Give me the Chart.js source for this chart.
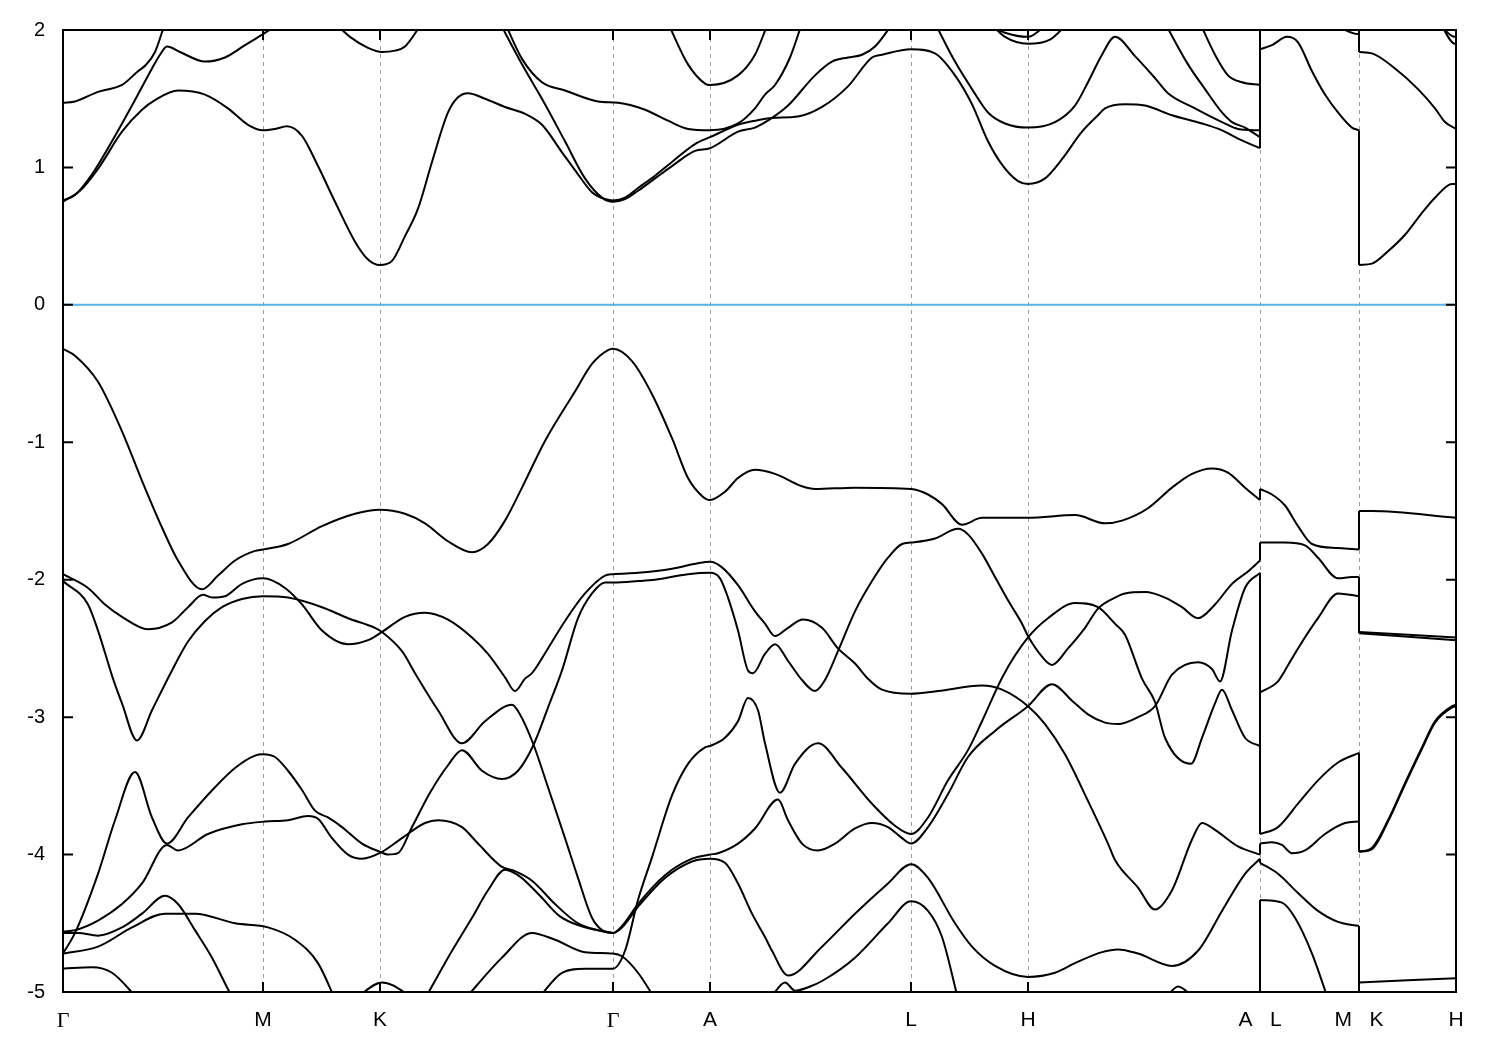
<!DOCTYPE html>
<html>
<head>
<meta charset="utf-8">
<script src="https://cdn.jsdelivr.net/npm/chart.js@4.4.1/dist/chart.umd.min.js"></script>
<style>
  html, body { margin: 0; padding: 0; background: #fff; }
  canvas { display: block; }
</style>
</head>
<body>
<canvas id="bands" width="1500" height="1050"></canvas>
<script>
// k-path: high symmetry points (k distance, arbitrary units) and their labels
const kTicks = [0, 200, 317, 550, 647, 848, 965, 1197, 1296, 1393];
const kLabels = ['Γ', 'M', 'K', 'Γ', 'A', 'L', 'H', 'A   L', 'M   K', 'H'];
const eTicks = [2, 1, 0, -1, -2, -3, -4, -5];

// valence bands, [k, E(eV)]
const vb1 = [[0,-0.32],[12,-0.37],[35,-0.56],[59,-0.92],[79,-1.28],[99,-1.62],[115,-1.86],[139,-2.07],[155,-1.97],[172,-1.86],[192,-1.79],[200,-1.78],[225,-1.74],[259,-1.61],[292,-1.52],[317,-1.49],[342,-1.52],[362,-1.59],[385,-1.72],[409,-1.80],[425,-1.74],[442,-1.57],[459,-1.33],[482,-0.99],[512,-0.63],[529,-0.43],[545,-0.33],[550,-0.32],[569,-0.41],[589,-0.65],[609,-0.97],[625,-1.26],[639,-1.39],[647,-1.42],[662,-1.36],[675,-1.26],[692,-1.20],[712,-1.23],[739,-1.32],[752,-1.34],[792,-1.33],[848,-1.34],[865,-1.38],[879,-1.45],[899,-1.60],[919,-1.55],[965,-1.55],[1012,-1.53],[1042,-1.59],[1059,-1.57],[1085,-1.48],[1109,-1.33],[1129,-1.23],[1149,-1.19],[1165,-1.22],[1182,-1.33],[1197,-1.42],[1197,-1.34],[1209,-1.38],[1222,-1.46],[1235,-1.61],[1249,-1.74],[1275,-1.77],[1296,-1.78],[1296,-1.50],[1309,-1.50],[1393,-1.55]];
const vb2 = [[0,-1.96],[25,-2.06],[42,-2.18],[59,-2.27],[85,-2.36],[109,-2.31],[125,-2.20],[140,-2.11],[149,-2.13],[162,-2.12],[179,-2.03],[200,-1.99],[222,-2.06],[239,-2.18],[259,-2.37],[285,-2.47],[305,-2.44],[319,-2.38],[342,-2.27],[362,-2.24],[385,-2.29],[409,-2.42],[425,-2.54],[442,-2.71],[452,-2.81],[462,-2.72],[469,-2.68],[485,-2.50],[502,-2.30],[522,-2.10],[542,-1.97],[550,-1.96],[575,-1.95],[609,-1.92],[635,-1.88],[647,-1.87],[659,-1.91],[675,-2.04],[692,-2.23],[702,-2.32],[712,-2.41],[725,-2.35],[740,-2.29],[759,-2.35],[775,-2.50],[792,-2.61],[805,-2.72],[819,-2.80],[848,-2.83],[875,-2.81],[919,-2.77],[939,-2.80],[965,-2.92],[982,-3.05],[1002,-3.27],[1025,-3.61],[1045,-3.92],[1052,-4.04],[1075,-4.24],[1092,-4.40],[1109,-4.26],[1129,-3.89],[1139,-3.77],[1152,-3.82],[1175,-3.94],[1197,-4.00],[1197,-3.92],[1209,-3.91],[1219,-3.93],[1229,-3.99],[1242,-3.97],[1262,-3.85],[1282,-3.77],[1296,-3.76],[1296,-3.98],[1309,-3.96],[1325,-3.76],[1342,-3.49],[1359,-3.23],[1372,-3.04],[1389,-2.93],[1393,-2.92]];
const vb3 = [[0,-2.01],[25,-2.18],[35,-2.37],[50,-2.72],[59,-2.90],[74,-3.17],[89,-2.95],[109,-2.66],[125,-2.45],[142,-2.30],[159,-2.20],[179,-2.14],[200,-2.12],[225,-2.13],[259,-2.20],[285,-2.28],[312,-2.35],[319,-2.38],[339,-2.52],[352,-2.68],[375,-2.95],[399,-3.19],[422,-3.03],[449,-2.91],[457,-2.98],[470,-3.19],[485,-3.51],[502,-3.88],[515,-4.17],[529,-4.46],[539,-4.55],[550,-4.57],[559,-4.52],[575,-4.36],[602,-4.15],[629,-4.03],[647,-4.00],[655,-3.99],[675,-3.92],[692,-3.81],[715,-3.60],[725,-3.75],[739,-3.92],[755,-3.97],[772,-3.92],[792,-3.81],[809,-3.77],[825,-3.80],[839,-3.88],[848,-3.92],[865,-3.80],[885,-3.56],[905,-3.29],[932,-3.10],[965,-2.92],[989,-2.76],[1009,-2.88],[1025,-2.98],[1042,-3.04],[1055,-3.05],[1075,-3.00],[1092,-2.92],[1109,-2.69],[1135,-2.60],[1149,-2.65],[1157,-2.74],[1169,-2.37],[1182,-2.06],[1197,-1.95],[1197,-3.85],[1215,-3.80],[1235,-3.63],[1255,-3.46],[1275,-3.33],[1296,-3.26],[1296,-3.98],[1309,-3.95],[1325,-3.75],[1342,-3.48],[1359,-3.22],[1372,-3.03],[1389,-2.92],[1393,-2.91]];
const vb4 = [[0,-4.72],[12,-4.57],[35,-4.14],[52,-3.75],[72,-3.40],[89,-3.73],[104,-3.92],[125,-3.73],[152,-3.51],[172,-3.37],[192,-3.28],[200,-3.27],[212,-3.29],[225,-3.39],[239,-3.53],[252,-3.68],[265,-3.73],[279,-3.80],[299,-3.92],[317,-3.98],[325,-4.00],[335,-3.99],[349,-3.80],[367,-3.55],[385,-3.35],[399,-3.24],[419,-3.39],[439,-3.45],[455,-3.39],[470,-3.21],[485,-2.93],[499,-2.66],[515,-2.28],[529,-2.10],[542,-2.02],[550,-2.02],[575,-2.01],[592,-2.00],[625,-1.96],[647,-1.95],[657,-1.99],[665,-2.13],[675,-2.37],[685,-2.66],[690,-2.68],[702,-2.54],[712,-2.47],[725,-2.59],[739,-2.73],[752,-2.81],[762,-2.73],[775,-2.52],[792,-2.23],[809,-2.01],[825,-1.84],[839,-1.74],[848,-1.73],[872,-1.70],[895,-1.63],[905,-1.67],[919,-1.81],[932,-1.98],[945,-2.15],[959,-2.32],[965,-2.41],[979,-2.56],[989,-2.62],[1005,-2.50],[1022,-2.35],[1035,-2.21],[1052,-2.13],[1062,-2.10],[1082,-2.09],[1102,-2.13],[1119,-2.20],[1135,-2.28],[1152,-2.18],[1169,-2.03],[1185,-1.94],[1197,-1.86],[1197,-1.73],[1222,-1.73],[1242,-1.75],[1255,-1.84],[1275,-1.99],[1289,-1.98],[1296,-1.98],[1296,-2.38],[1393,-2.42]];
const vb5 = [[0,-4.56],[12,-4.55],[35,-4.48],[59,-4.36],[79,-4.21],[104,-3.93],[115,-3.97],[145,-3.85],[179,-3.78],[202,-3.76],[225,-3.75],[245,-3.72],[255,-3.74],[269,-3.88],[285,-4.00],[299,-4.03],[319,-3.98],[339,-3.88],[362,-3.77],[375,-3.75],[399,-3.80],[415,-3.92],[439,-4.09],[452,-4.12],[469,-4.19],[492,-4.36],[515,-4.50],[535,-4.55],[550,-4.57],[559,-4.53],[575,-4.38],[602,-4.17],[629,-4.05],[647,-4.03],[662,-4.06],[675,-4.21],[689,-4.43],[702,-4.60],[709,-4.70],[725,-4.88],[759,-4.67],[792,-4.43],[825,-4.21],[848,-4.07],[865,-4.17],[892,-4.50],[909,-4.67],[932,-4.81],[965,-4.89],[992,-4.86],[1012,-4.79],[1039,-4.71],[1055,-4.69],[1075,-4.72],[1109,-4.81],[1135,-4.70],[1159,-4.41],[1182,-4.14],[1197,-4.03],[1197,-4.06],[1215,-4.14],[1235,-4.28],[1255,-4.41],[1275,-4.49],[1296,-4.52],[1296,-5.30]];
const vb6 = [[475,-5.05],[499,-4.86],[522,-4.83],[550,-4.83],[562,-4.70],[575,-4.33],[589,-4.02],[609,-3.57],[625,-3.34],[642,-3.22],[647,-3.21],[662,-3.15],[675,-3.03],[685,-2.86],[695,-2.95],[702,-3.19],[717,-3.55],[732,-3.34],[755,-3.19],[779,-3.37],[809,-3.63],[832,-3.79],[848,-3.85],[865,-3.73],[885,-3.46],[905,-3.24],[919,-3.03],[940,-2.70],[965,-2.42],[985,-2.28],[1012,-2.17],[1035,-2.20],[1052,-2.32],[1062,-2.40],[1079,-2.72],[1092,-2.89],[1102,-3.15],[1128,-3.34],[1139,-3.15],[1152,-2.90],[1159,-2.80],[1169,-2.95],[1182,-3.15],[1197,-3.21],[1197,-2.82],[1215,-2.74],[1222,-2.66],[1235,-2.50],[1255,-2.28],[1275,-2.10],[1296,-2.12],[1296,-2.39],[1393,-2.44]];
const vb7 = [[0,-4.57],[15,-4.57],[35,-4.59],[59,-4.53],[79,-4.43],[102,-4.30],[115,-4.36],[132,-4.55],[149,-4.75],[165,-4.98],[170,-5.05]];
const vb8 = [[0,-4.72],[35,-4.67],[69,-4.53],[102,-4.43],[132,-4.43],[172,-4.50],[205,-4.53],[232,-4.62],[255,-4.79],[272,-5.05]];
const vb9 = [[0,-4.83],[29,-4.82],[49,-4.86],[75,-5.05]];
const vb10 = [[292,-5.05],[319,-4.93],[352,-5.05]];
const vb11 = [[362,-5.05],[385,-4.75],[409,-4.46],[425,-4.26],[442,-4.11],[457,-4.16],[477,-4.30],[497,-4.45],[522,-4.53],[550,-4.57]];
const vb12 = [[402,-5.05],[439,-4.75],[469,-4.57],[492,-4.62],[522,-4.71],[550,-4.72],[559,-4.74],[575,-4.86],[592,-5.05]];
const vb13 = [[707,-5.05],[722,-4.93],[732,-4.99],[747,-4.96],[759,-4.92],[792,-4.75],[825,-4.50],[848,-4.34],[865,-4.41],[879,-4.60],[895,-5.05]];
const vb14 = [[1102,-5.05],[1115,-4.96],[1132,-5.05]];
const vb15 = [[1197,-5.30],[1197,-4.33],[1219,-4.35],[1232,-4.46],[1249,-4.72],[1265,-5.05]];
const vb16 = [[1296,-5.30],[1296,-4.93],[1393,-4.90]];

// conduction bands, [k, E(eV)]
const cb1 = [[0,0.76],[12,0.80],[29,0.95],[49,1.19],[69,1.45],[89,1.72],[97,1.82],[104,1.88],[117,1.84],[142,1.77],[162,1.80],[182,1.89],[200,1.97],[217,2.05]];
const cb2 = [[0,0.75],[17,0.83],[35,0.99],[59,1.26],[79,1.42],[92,1.49],[115,1.56],[142,1.53],[165,1.43],[185,1.31],[200,1.27],[212,1.28],[224,1.30],[239,1.23],[255,1.01],[272,0.75],[292,0.46],[305,0.33],[317,0.29],[329,0.32],[342,0.50],[355,0.70],[369,1.04],[385,1.40],[395,1.51],[405,1.54],[422,1.50],[442,1.44],[462,1.39],[479,1.31],[499,1.11],[515,0.95],[529,0.82],[542,0.77],[550,0.76],[562,0.78],[575,0.85],[592,0.94],[609,1.04],[632,1.17],[647,1.22],[675,1.31],[692,1.34],[709,1.36],[735,1.37],[759,1.44],[785,1.59],[809,1.80],[819,1.82],[848,1.86],[872,1.83],[892,1.67],[909,1.46],[925,1.19],[939,1.02],[955,0.90],[965,0.88],[982,0.92],[999,1.06],[1019,1.26],[1035,1.38],[1042,1.43],[1062,1.46],[1082,1.45],[1109,1.38],[1139,1.32],[1159,1.27],[1175,1.21],[1197,1.14],[1197,1.86],[1209,1.89],[1224,1.95],[1235,1.91],[1249,1.70],[1262,1.53],[1275,1.40],[1289,1.29],[1296,1.27],[1296,0.29],[1309,0.30],[1325,0.39],[1342,0.51],[1359,0.67],[1372,0.78],[1389,0.88],[1393,0.88]];
const cb3 = [[0,1.47],[12,1.48],[35,1.55],[59,1.60],[75,1.70],[82,1.74],[92,1.84],[102,2.05]];
const cb4 = [[272,2.05],[287,1.95],[305,1.87],[319,1.84],[332,1.85],[342,1.88],[359,2.05]];
const cb5 = [[437,2.05],[459,1.75],[482,1.46],[502,1.19],[522,0.92],[539,0.78],[550,0.75],[562,0.77],[575,0.83],[592,0.92],[609,1.01],[632,1.12],[647,1.14],[675,1.26],[692,1.29],[709,1.36],[725,1.45],[752,1.67],[769,1.77],[785,1.80],[799,1.82],[812,1.88],[830,2.05]];
const cb6 = [[442,2.05],[459,1.79],[479,1.62],[502,1.56],[535,1.48],[555,1.47],[582,1.42],[605,1.34],[625,1.28],[647,1.27],[675,1.32],[692,1.43],[702,1.53],[712,1.60],[727,1.80],[739,2.05]];
const cb7 = [[605,2.05],[625,1.75],[642,1.61],[647,1.60],[675,1.67],[692,1.82],[705,2.05]];
const cb8 = [[922,2.05],[942,1.98],[965,1.95],[985,2.05]];
const cb9 = [[927,2.05],[942,1.95],[965,1.90],[987,1.93],[1005,2.05]];
const cb10 = [[872,2.05],[892,1.77],[909,1.57],[925,1.40],[942,1.32],[965,1.29],[992,1.33],[1012,1.45],[1025,1.62],[1039,1.82],[1052,1.95],[1072,1.81],[1092,1.65],[1105,1.54],[1132,1.43],[1159,1.33],[1175,1.28],[1197,1.27],[1197,2.05]];
const cb11 = [[1102,2.05],[1125,1.75],[1142,1.57],[1159,1.40],[1169,1.33],[1182,1.29],[1197,1.22],[1197,2.05]];
const cb12 = [[1137,2.05],[1152,1.82],[1165,1.67],[1179,1.62],[1197,1.60],[1197,2.05]];
const cb13 = [[1269,2.05],[1295,1.97],[1296,1.97],[1296,1.84],[1309,1.83],[1332,1.72],[1355,1.57],[1372,1.43],[1382,1.33],[1393,1.28]];
const cb14 = [[1375,2.05],[1392,1.95],[1393,1.95]];
const cb15 = [[1377,2.05],[1392,1.90],[1393,1.90]];

// Fermi level
const fermi = [[0, 0], [1393, 0]];

const allBands = [vb1, vb2, vb3, vb4, vb5, vb6, vb7, vb8, vb9, vb10, vb11, vb12, vb13, vb14, vb15, vb16,
                  cb1, cb2, cb3, cb4, cb5, cb6, cb7, cb8, cb9, cb10, cb11, cb12, cb13, cb14, cb15];

// cut a band where the path jumps (same k twice): smooth pieces + straight vertical joins
function splitBand(b) {
    let pieces = [], joins = [], cur = [b[0]];
    for (let i = 1; i < b.length; i++) {
        if (b[i][0] === b[i - 1][0]) {
            pieces.push(cur);
            joins.push([b[i - 1], b[i]]);
            cur = [b[i]];
        } else {
            cur.push(b[i]);
        }
    }
    pieces.push(cur);
    return { pieces, joins };
}

let datasets = [];
allBands.forEach(b => {
    const parts = splitBand(b);
    parts.pieces.filter(p => p.length > 1).forEach(p => datasets.push({
        data: p,
        borderColor: '#000',
        borderWidth: 2,
        pointRadius: 0,
        cubicInterpolationMode: 'monotone',
        clip: 0
    }));
    parts.joins.forEach(j => datasets.push({
        data: j,
        borderColor: '#000',
        borderWidth: 2,
        pointRadius: 0,
        tension: 0,
        clip: 0
    }));
});
datasets.push({
    data: fermi,
    borderColor: '#56b4e9',
    borderWidth: 2,
    pointRadius: 0,
    tension: 0,
    clip: 0
});

// white background, dashed k-point lines, frame with inward ticks (gnuplot look)
const frame = {
    id: 'frame',
    beforeDraw(chart) {
        const ctx = chart.ctx;
        ctx.save();
        ctx.fillStyle = '#fff';
        ctx.fillRect(0, 0, chart.width, chart.height);
        ctx.restore();
    },
    beforeDatasetsDraw(chart) {
        const { ctx, chartArea: a, scales: { x } } = chart;
        ctx.save();
        ctx.strokeStyle = '#a0a0a0';
        ctx.lineWidth = 1;
        ctx.setLineDash([4, 4]);
        ctx.beginPath();
        kTicks.slice(1, -1).forEach(k => {
            const px = Math.round(x.getPixelForValue(k)) + 0.5;
            ctx.moveTo(px, a.top);
            ctx.lineTo(px, a.bottom);
        });
        ctx.stroke();
        ctx.restore();
    },
    afterDraw(chart) {
        const { ctx, chartArea: a, scales: { x, y } } = chart;
        ctx.save();
        ctx.strokeStyle = '#000';
        ctx.lineWidth = 2;
        ctx.strokeRect(a.left, a.top, a.right - a.left, a.bottom - a.top);
        ctx.beginPath();
        eTicks.forEach(e => {
            const py = y.getPixelForValue(e);
            ctx.moveTo(a.left, py); ctx.lineTo(a.left + 10, py);
            ctx.moveTo(a.right, py); ctx.lineTo(a.right - 10, py);
        });
        kTicks.forEach(k => {
            const px = x.getPixelForValue(k);
            ctx.moveTo(px, a.bottom); ctx.lineTo(px, a.bottom - 10);
            ctx.moveTo(px, a.top); ctx.lineTo(px, a.top + 10);
        });
        ctx.stroke();
        ctx.restore();
    }
};

new Chart(document.getElementById('bands'), {
    type: 'line',
    data: { datasets: datasets },
    plugins: [frame],
    options: {
        responsive: false,
        animation: false,
        devicePixelRatio: 1,
        layout: { padding: { left: 0, right: 44, top: 28, bottom: 0 } },
        plugins: { legend: { display: false }, tooltip: { enabled: false } },
        scales: {
            x: {
                type: 'linear',
                min: 0,
                max: 1393,
                grid: { display: false, drawTicks: false },
                border: { display: false },
                afterFit: s => { s.height = 58; },
                afterBuildTicks: s => { s.ticks = kTicks.map(v => ({ value: v })); },
                ticks: {
                    autoSkip: false,
                    maxRotation: 0,
                    padding: 16,
                    color: '#000',
                    font: c => ({
                        family: kLabels[c.index] === 'Γ' ? 'Liberation Serif' : 'Liberation Sans',
                        size: kLabels[c.index] === 'Γ' ? 22 : 21
                    }),
                    callback: (v, i) => kLabels[i]
                }
            },
            y: {
                min: -5,
                max: 2,
                grid: { display: false, drawTicks: false },
                border: { display: false },
                afterFit: s => { s.width = 63; },
                ticks: {
                    stepSize: 1,
                    padding: 18,
                    color: '#000',
                    font: { family: 'Liberation Sans', size: 20 }
                }
            }
        }
    }
});
</script>
</body>
</html>
